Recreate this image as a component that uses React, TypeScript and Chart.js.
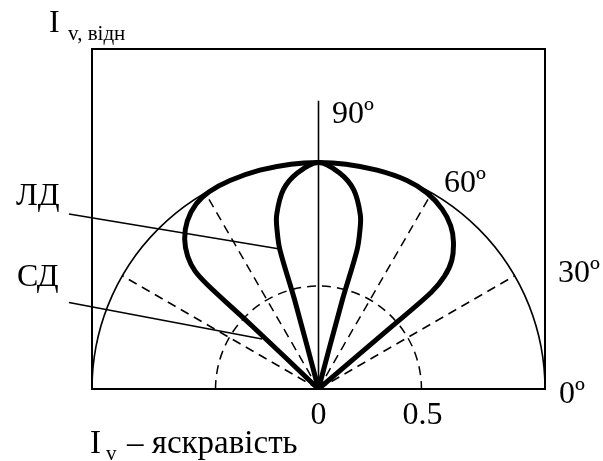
import { useEffect, useRef } from "react";
import { Chart, registerables } from "chart.js";

Chart.register(...registerables);

// Polar data (angle in degrees, relative radius)
const sdAngles = [40.5, 40.5, 40.6, 41.8, 44, 47.5, 51, 55.5, 61, 67, 75, 83, 90, 97, 105, 113, 119, 123.5, 128, 131.8, 134.6, 136.3, 136.8, 136.5, 136.5];
const sdRadii = [0, 0.45, 0.72, 0.82, 0.9, 0.97, 1.02, 1.06, 1.088, 1.1, 1.1, 1.1, 1.1, 1.1, 1.1, 1.1, 1.095, 1.077, 1.035, 0.975, 0.905, 0.83, 0.74, 0.45, 0];

const ldAngles = [75, 75, 74.5, 75.3, 76.5, 80, 84.5, 90, 95.5, 100, 103.5, 104.7, 105.5, 105, 105];
const ldRadii = [0, 0.45, 0.7, 0.79, 0.87, 0.983, 1.055, 1.1, 1.055, 0.983, 0.87, 0.79, 0.7, 0.45, 0];

const outerRadius = 1.1;
const halfRadius = 0.5;
const rayAngles = [30, 60, 120, 150];
const axisTop = 1.4;

const xTickValues = [0, 0.5];
const xTickLabels = ["0", "0.5"];
const angleLabels = ["0º", "30º", "60º", "90º"];
const curveLabels = ["ЛД", "СД"];

const FONT = '"Liberation Serif", "Times New Roman", serif';

const toXY = (angles: number[], radii: number[]) =>
  angles.map((a, i) => ({
    x: radii[i] * Math.cos((a * Math.PI) / 180),
    y: radii[i] * Math.sin((a * Math.PI) / 180),
  }));

export default function App() {
  const ref = useRef<HTMLCanvasElement | null>(null);

  useEffect(() => {
    if (!ref.current) return;

    const guides = {
      id: "guides",
      beforeDatasetsDraw(chart: any) {
        const { ctx } = chart;
        const xs = chart.scales.x;
        const ys = chart.scales.y;
        const cx = xs.getPixelForValue(0);
        const cy = ys.getPixelForValue(0);
        const unit = xs.getPixelForValue(1) - cx;
        ctx.save();
        ctx.strokeStyle = "#000";
        ctx.lineWidth = 1.6;
        ctx.setLineDash([]);
        ctx.beginPath();
        ctx.arc(cx, cy, outerRadius * unit, Math.PI, 2 * Math.PI);
        ctx.stroke();
        ctx.beginPath();
        ctx.moveTo(cx, cy);
        ctx.lineTo(cx, ys.getPixelForValue(axisTop));
        ctx.stroke();
        ctx.lineWidth = 1.5;
        ctx.setLineDash([9, 6]);
        ctx.beginPath();
        ctx.arc(cx, cy, halfRadius * unit, Math.PI, 2 * Math.PI);
        ctx.stroke();
        rayAngles.forEach((a) => {
          const r = (a * Math.PI) / 180;
          ctx.beginPath();
          ctx.moveTo(cx, cy);
          ctx.lineTo(
            xs.getPixelForValue(outerRadius * Math.cos(r)),
            ys.getPixelForValue(outerRadius * Math.sin(r))
          );
          ctx.stroke();
        });
        ctx.restore();
      },
    };

    const labels = {
      id: "labels",
      afterDraw(chart: any) {
        const { ctx } = chart;
        const xs = chart.scales.x;
        ctx.save();
        ctx.fillStyle = "#000";
        ctx.textBaseline = "alphabetic";
        const big = `32px ${FONT}`;
        const small = `21px ${FONT}`;
        ctx.textAlign = "left";
        ctx.font = big;
        ctx.fillText("I", 49, 32);
        ctx.font = small;
        ctx.fillText("v, відн", 68, 39.5);
        ctx.font = `33px ${FONT}`;
        ctx.fillText("I", 90, 453);
        ctx.font = small;
        ctx.fillText("v", 106, 460);
        ctx.font = `33px ${FONT}`;
        ctx.fillText("– яскравість", 127, 453);
        ctx.font = big;
        const angPos = [
          [559, 403],
          [558, 282],
          [444, 192],
          [332, 123],
        ];
        angleLabels.forEach((t, i) => ctx.fillText(t, angPos[i][0], angPos[i][1]));
        ctx.fillText(curveLabels[0], 16, 205);
        ctx.fillText(curveLabels[1], 17, 286);
        ctx.textAlign = "center";
        xTickValues.forEach((v, i) => ctx.fillText(xTickLabels[i], xs.getPixelForValue(v) + (i ? 1 : 0), 423.5));
        ctx.restore();
      },
    };

    const axisOpts = (position: string, horizontal: boolean, extra: any) => ({
      type: "linear",
      position,
      ...extra,
      grid: { display: false, drawTicks: false },
      ticks: { display: false },
      border: { display: true, color: "#000", width: 2 },
      afterFit: (s: any) => {
        if (horizontal) s.height = 0;
        else s.width = 0;
      },
    });

    const xr = { min: -1.1, max: 1.1 };
    const yr = { min: 0, max: 1.651 };

    const curve = (data: any) => ({
      data,
      showLine: true,
      borderColor: "#000",
      borderWidth: 5,
      pointRadius: 0,
      tension: 0.35,
      fill: false,
    });
    const leader = (data: any) => ({
      data,
      showLine: true,
      borderColor: "#000",
      borderWidth: 1.6,
      pointRadius: 0,
      tension: 0,
      clip: false,
    });

    const chart = new Chart(ref.current, {
      type: "scatter",
      data: {
        datasets: [
          curve(toXY(ldAngles, ldRadii)),
          curve(toXY(sdAngles, sdRadii)),
          leader([
            { x: -1.471, y: 0.8495 },
            { x: -1.212, y: 0.8495 },
            { x: -0.188, y: 0.68 },
          ]),
          leader([
            { x: -1.433, y: 0.42 },
            { x: -1.212, y: 0.42 },
            { x: -0.274, y: 0.243 },
          ]),
        ],
      } as any,
      options: {
        animation: false,
        responsive: false,
        devicePixelRatio: 1,
        events: [],
        layout: { padding: { left: 92, top: 49, right: 58, bottom: 72 } },
        plugins: { legend: { display: false }, tooltip: { enabled: false } },
        scales: {
          x: axisOpts("bottom", true, xr),
          xTop: axisOpts("top", true, xr),
          y: axisOpts("left", false, yr),
          yRight: axisOpts("right", false, yr),
        } as any,
      },
      plugins: [guides, labels],
    });

    return () => chart.destroy();
  }, []);

  return (
    <div style={{ position: "absolute", left: 0, top: 0, width: 603, height: 461, background: "#fff" }}>
      <canvas ref={ref} width={603} height={461} style={{ display: "block" }} />
    </div>
  );
}
